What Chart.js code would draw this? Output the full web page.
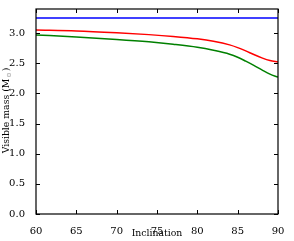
<!DOCTYPE html>
<html><head><meta charset="utf-8">
<script src="https://cdn.jsdelivr.net/npm/chart.js@4/dist/chart.umd.min.js"></script>
<style>html,body{margin:0;padding:0;background:#fff}#wrap{width:294px;height:241px}</style>
</head><body><div id="wrap"><canvas id="c" width="294" height="241"></canvas></div>
<script>
const inclination = [60, 65, 70, 74, 77, 80, 82, 84, 85, 86, 87, 88, 89, 90];
const blueMass  = [3.25, 3.25, 3.25, 3.25, 3.25, 3.25, 3.25, 3.25, 3.25, 3.25, 3.25, 3.25, 3.25, 3.25];
const redMass   = [3.05, 3.035, 3.005, 2.975, 2.945, 2.905, 2.865, 2.805, 2.76, 2.705, 2.645, 2.59, 2.545, 2.52];
const greenMass = [2.97, 2.935, 2.895, 2.855, 2.815, 2.765, 2.715, 2.65, 2.60, 2.535, 2.465, 2.39, 2.32, 2.27];
const xTicks = [60, 65, 70, 75, 80, 85, 90];
const yTicks = [0.0, 0.5, 1.0, 1.5, 2.0, 2.5, 3.0];
const xTitle = 'Inclination';
const yTitle = ['Visible mass (M', '⊙', ')'];

const pts = arr => inclination.map((x, i) => ({x, y: arr[i]}));
const FAM = 'DejaVu Serif';
const FONT = {family: FAM, size: 10};
const TS = 9.3;

const frame = {
  id: 'frame',
  afterDraw(chart) {
    const {ctx, chartArea: a, scales: {x, y}} = chart;
    ctx.save();
    ctx.strokeStyle = '#000';
    ctx.lineWidth = 1;
    const L = 4;
    xTicks.forEach(v => {
      const px = Math.round(x.getPixelForValue(v)) + 0.5;
      ctx.beginPath();
      ctx.moveTo(px, a.bottom); ctx.lineTo(px, a.bottom - L);
      ctx.moveTo(px, a.top); ctx.lineTo(px, a.top + L);
      ctx.stroke();
    });
    yTicks.forEach(v => {
      const py = Math.round(y.getPixelForValue(v)) + 0.5;
      ctx.beginPath();
      ctx.moveTo(a.left, py); ctx.lineTo(a.left + L, py);
      ctx.moveTo(a.right, py); ctx.lineTo(a.right - L, py);
      ctx.stroke();
    });
    ctx.lineWidth = 1.2;
    ctx.strokeRect(a.left, a.top, a.right - a.left, a.bottom - a.top);
    // titles
    ctx.fillStyle = '#000';
    ctx.font = TS + 'px "' + FAM + '"';
    ctx.textAlign = 'center';
    ctx.textBaseline = 'middle';
    ctx.fillText(xTitle, (a.left + a.right) / 2, 234);
    ctx.translate(7, (a.top + a.bottom) / 2 - 1);
    ctx.rotate(-Math.PI / 2);
    const w0 = ctx.measureText(yTitle[0]).width;
    ctx.font = '6.5px "' + FAM + '"';
    const w1 = ctx.measureText(yTitle[1]).width;
    ctx.font = TS + 'px "' + FAM + '"';
    const w2 = ctx.measureText(yTitle[2]).width;
    const tot = w0 + w1 + w2 + 2;
    let cx = -tot / 2;
    ctx.textAlign = 'left';
    ctx.fillText(yTitle[0], cx, 0); cx += w0 + 1;
    ctx.font = '6.5px "' + FAM + '"';
    ctx.fillStyle = '#999';
    ctx.fillText(yTitle[1], cx, 2.5); cx += w1 + 1;
    ctx.fillStyle = '#000';
    ctx.font = TS + 'px "' + FAM + '"';
    ctx.fillText(yTitle[2], cx, 0);
    ctx.restore();
  }
};

new Chart(document.getElementById('c'), {
  type: 'line',
  data: {
    datasets: [
      {data: pts(blueMass), borderColor: '#0000ff', borderWidth: 1.5},
      {data: pts(redMass), borderColor: '#ff0000', borderWidth: 1.5},
      {data: pts(greenMass), borderColor: '#008000', borderWidth: 1.5}
    ].map(d => Object.assign(d, {pointRadius: 0, fill: false, cubicInterpolationMode: 'monotone'}))
  },
  options: {
    responsive: false,
    animation: false,
    devicePixelRatio: 1,
    layout: {padding: {top: 7, right: 16, left: 0, bottom: 0}},
    plugins: {legend: {display: false}, tooltip: {enabled: false}},
    scales: {
      x: {
        type: 'linear', min: 60, max: 90,
        afterBuildTicks: s => { s.ticks = xTicks.map(v => ({value: v})); },
        afterFit: s => { s.height = 27; },
        grid: {display: false},
        border: {display: false},
        ticks: {font: FONT, color: '#000', padding: 3, maxRotation: 0}
      },
      y: {
        type: 'linear', min: 0, max: 3.4,
        afterBuildTicks: s => { s.ticks = yTicks.map(v => ({value: v})); },
        afterFit: s => { s.width = 36; },
        grid: {display: false},
        border: {display: false},
        ticks: {font: FONT, color: '#000', padding: 3, callback: v => v.toFixed(1)}
      }
    }
  },
  plugins: [frame]
});
</script></body></html>
